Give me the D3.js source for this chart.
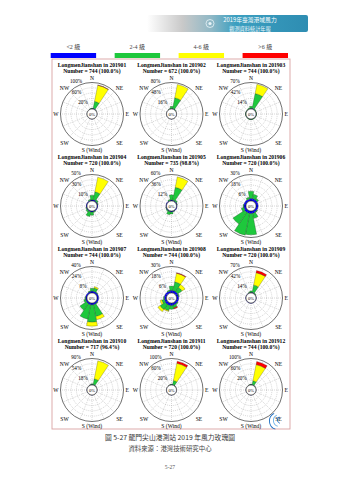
<!DOCTYPE html>
<html>
<head>
<meta charset="utf-8">
<script src="https://cdn.jsdelivr.net/npm/d3@7"></script>
<style>
  body { margin: 0; background: #fff; }
  svg text { font-family: "Liberation Serif", "Noto Sans CJK TC", serif; }
</style>
</head>
<body>
<div id="chart"></div>
<script>
// ---- data -------------------------------------------------------------
const station = "LongmenJianshan";
const months = ["201901","201902","201903","201904","201905","201906",
                "201907","201908","201909","201910","201911","201912"];
const counts = ["744 (100.0%)","672 (100.0%)","744 (100.0%)","720 (100.0%)",
                "735 (98.8%)","720 (100.0%)","744 (100.0%)","744 (100.0%)",
                "720 (100.0%)","717 (96.4%)","720 (100.0%)","744 (100.0%)"];
// outer ring value (%) of each rose
const ringMax = [100, 80, 70, 50, 60, 30, 40, 30, 70, 90, 100, 100];
const dirLabels = ["N","NE","E","SE","S (Wind)","SW","W","NW"];
const binLabels = ["<2 級","2-4 級","4-6 級",">6 級"];

// frequency (%) per direction: N, NNE, NE, ENE, E, ESE, SE, SSE, S, SSW, SW, WSW, W, WNW, NW, NNW
const binLt2 = [
  [1.5,3,1,0.5,0.4,0.3,0.3,0.4,0.5,0.5,0.5,0.4,0.3,0.3,0.4,0.8],
  [1,2,0.8,0.4,0.3,0.3,0.3,0.3,0.4,0.4,0.4,0.3,0.3,0.3,0.3,0.6],
  [1.5,2,1,0.6,0.5,0.5,0.5,0.5,0.6,0.6,0.5,0.5,0.5,0.5,0.5,0.8],
  [2,2.5,1.8,1.5,1.5,1.5,1.5,1.5,2,2,1.5,1.5,1.5,1.5,1.5,1.5],
  [2,2,1.8,1.5,1.5,1.5,1.5,1.5,2,2,1.5,1.5,1.5,1.5,1.5,1.5],
  [3,3,2.8,2.5,2.5,2.5,2.5,2.8,3,3,3,2.5,2.5,2.5,2.5,2.5],
  [3,3,2.5,2.5,2.5,2.5,2.5,3,3,3,2.5,2.2,2.2,2.2,2.2,2.5],
  [3,3,2.8,2.5,2.5,2.5,2.5,2.5,3,3,3,2.5,2.5,2.5,2.5,2.5],
  [1.5,2,1,0.8,0.8,0.8,0.8,0.8,0.8,0.8,0.8,0.8,0.8,0.8,0.8,1],
  [1.5,2,0.8,0.5,0.5,0.5,0.5,0.5,0.6,0.6,0.5,0.5,0.5,0.5,0.5,0.8],
  [1.5,2,0.8,0.5,0.5,0.5,0.5,0.5,0.6,0.6,0.5,0.5,0.5,0.5,0.5,0.8],
  [1.5,2,0.8,0.5,0.5,0.5,0.5,0.5,0.6,0.6,0.5,0.5,0.5,0.5,0.5,0.8]
];
const bin2to4 = [
  [2,27,1,0,0,0,0,0,0,0,0,0,0,0,0,0.5],
  [7,33,1.5,0,0,0,0,0,0,0,0,0,0,0,0,1],
  [6,40,2,1,1,1,1,1,1.5,1.5,1,1,1,1,1,2],
  [9,15.5,3,1,0,0,0,1.5,6,9,3,1,0,0,0,2],
  [12,30,3,0.5,0,0,0,1,5,7,2,0.5,0,0,0,2],
  [8,5,2,0,0,0,1,6,24,25,16,3,1,0,0,2],
  [4,5,1,0,0,0,1,18,26,22,12,3,1,0,0,1],
  [5,10,6,1,0,0,1,3,4,6,7,3,1,0,0,1],
  [4,20,2,0,0,0,0,0,0,0,0,0,0,0,0,1],
  [3,20,1,0,0,0,0,0,0,0,0,0,0,0,0,0.5],
  [2,16,1,0,0,0,0,0,0,0,0,0,0,0,0,0.5],
  [2,15,1,0,0,0,0,0,0,0,0,0,0,0,0,0.5]
];
const bin4to6 = [
  [0,62,0,0,0,0,0,0,0,0,0,0,0,0,0,0],
  [0,41,0,0,0,0,0,0,0,0,0,0,0,0,0,0],
  [0,25,0,0,0,0,0,0,0,0,0,0,0,0,0,0],
  [0,28,0,0,0,0,0,0,0,0,0,0,0,0,0,0],
  [0,24,0,0,0,0,0,0,0,0,0,0,0,0,0,0],
  [0,0,0,0,0,0,0,0,0,0,0,0,0,0,0,0],
  [0,2,0,0,0,0,0,5,6,0,0,0,0,0,0,0],
  [0,10,4,0,0,0,0,0.5,0,1,3,2,0,0,0,0],
  [0,33,0,0,0,0,0,0,0,0,0,0,0,0,0,0],
  [0,62,0,0,0,0,0,0,0,0,0,0,0,0,0,0],
  [0,66,0,0,0,0,0,0,0,0,0,0,0,0,0,0],
  [0,62,0,0,0,0,0,0,0,0,0,0,0,0,0,0]
];
const binGt6 = [
  [0,1,0,0,0,0,0,0,0,0,0,0,0,0,0,0],
  [0,0,0,0,0,0,0,0,0,0,0,0,0,0,0,0],
  [0,0,0,0,0,0,0,0,0,0,0,0,0,0,0,0],
  [0,0,0,0,0,0,0,0,0,0,0,0,0,0,0,0],
  [0,0,0,0,0,0,0,0,0,0,0,0,0,0,0,0],
  [0,0,0,0,0,0,0,0,0,0,0,0,0,0,0,0],
  [0,0,0,0,0,0,0,0,0,0,0,0,0,0,0,0],
  [0,0.5,0,0,0,0,0,1,0,0,0,0,0,0,0,0],
  [0,6,0,0,0,0,0,0,0,0,0,0,0,0,0,0],
  [0,0,0,0,0,0,0,0,0,0,0,0,0,0,0,0],
  [0,8,0,0,0,0,0,0,0,0,0,0,0,0,0,0],
  [0,12,0,0,0,0,0,0,0,0,0,0,0,0,0,0]
];
const binColors = ["#0000ff", "#1ec83c", "#ffff00", "#ff0000"];

// ---- layout -----------------------------------------------------------
const W = 339, H = 480;
const colX = [92, 171.5, 251];
const rowY0 = 114, rowStep = 92;
const R = 31.5, hole = 5;

const svg = d3.select("#chart").append("svg")
  .attr("width", W).attr("height", H);

// header banner
const defs = svg.append("defs");
const grad = defs.append("linearGradient").attr("id", "banner");
[["0%","#ffffff"],["22%","#c9c9c9"],["40%","#8fb8c6"],["55%","#3b9fc0"],["100%","#2e8db2"]]
  .forEach(([o,c]) => grad.append("stop").attr("offset", o).attr("stop-color", c));
svg.append("rect").attr("x", 147).attr("y", 15).attr("width", 161).attr("height", 17)
  .attr("rx", 2).attr("fill", "url(#banner)");
svg.append("circle").attr("cx", 210).attr("cy", 23.5).attr("r", 4)
  .attr("fill", "none").attr("stroke", "#e8f4f8").attr("stroke-width", 0.8);
svg.append("circle").attr("cx", 210).attr("cy", 23.5).attr("r", 1.6).attr("fill", "#e8f4f8");
svg.append("text").attr("x", 250).attr("y", 19.6).attr("text-anchor", "middle")
  .attr("dominant-baseline", "central").attr("fill", "#fff")
  .style("font-family", "Noto Sans CJK TC").style("font-size", "5.8px").text("2019年臺灣港域風力");
svg.append("text").attr("x", 250).attr("y", 28.1).attr("text-anchor", "middle")
  .attr("dominant-baseline", "central").attr("fill", "#eef7fa")
  .style("font-family", "Noto Sans CJK TC").style("font-size", "5.2px").text("觀測資料統計年報");

// legend
const legX = d3.scaleBand().domain(binLabels).range([50.7, 288]).paddingInner(0.29);
svg.selectAll("rect.leg").data(binLabels).join("rect")
  .attr("x", d => legX(d)).attr("y", 53).attr("width", legX.bandwidth()).attr("height", 5)
  .attr("fill", (d, i) => binColors[i]);
svg.selectAll("text.leg").data(binLabels).join("text")
  .attr("x", d => legX(d) + legX.bandwidth() / 2).attr("y", 47)
  .attr("text-anchor", "middle").attr("dominant-baseline", "central")
  .attr("fill", "#444").style("font-size", "6px").text(d => d);

// frame around the roses
svg.append("rect").attr("x", 52).attr("y", 59).attr("width", 238).attr("height", 370)
  .attr("fill", "none").attr("stroke", "#d9a3a3").attr("stroke-width", 0.9);

const arc = d3.arc();
const step = Math.PI / 8;

months.forEach((m, idx) => {
  const cx = colX[idx % 3];
  const cy = rowY0 + rowStep * Math.floor(idx / 3);
  const g = svg.append("g").attr("transform", `translate(${cx},${cy})`);
  const r = d3.scaleLinear().domain([0, ringMax[idx]]).range([hole, R]);
  const ticks = d3.range(1, 6).map(k => ringMax[idx] * k / 5);

  // title
  g.append("text").attr("x", 0).attr("y", -49.5).attr("text-anchor", "middle")
    .attr("dominant-baseline", "central").attr("font-weight", "bold")
    .style("font-size", "5.6px").text(`${station} in ${m}`);
  g.append("text").attr("x", 0).attr("y", -42.8).attr("text-anchor", "middle")
    .attr("dominant-baseline", "central").attr("font-weight", "bold")
    .style("font-size", "5.6px").text(`Number = ${counts[idx]}`);

  // dashed rings and spokes
  g.selectAll("circle.ring").data(ticks.slice(0, 4)).join("circle")
    .attr("r", d => r(d)).attr("fill", "none").attr("stroke", "#9a9a9a")
    .attr("stroke-width", 0.4).attr("stroke-dasharray", "1,1");
  g.selectAll("line.spoke").data(d3.range(16)).join("line")
    .attr("x1", d => hole * Math.sin(d * step)).attr("y1", d => -hole * Math.cos(d * step))
    .attr("x2", d => R * Math.sin(d * step)).attr("y2", d => -R * Math.cos(d * step))
    .attr("stroke", "#9a9a9a").attr("stroke-width", 0.4).attr("stroke-dasharray", "1,1");
  g.append("circle").attr("r", R).attr("fill", "none").attr("stroke", "#111").attr("stroke-width", 0.6);

  // stacked sectors
  const bins = [binLt2[idx], bin2to4[idx], bin4to6[idx], binGt6[idx]];
  const segs = [];
  d3.range(16).forEach(d => {
    let acc = 0;
    bins.forEach((b, bi) => {
      const v = b[d];
      if (v > 0) segs.push({ d, bi, a0: acc, a1: acc + v });
      acc += v;
    });
  });
  g.selectAll("path.seg").data(segs).join("path")
    .attr("d", s => arc({ innerRadius: r(s.a0), outerRadius: r(s.a1),
                          startAngle: (s.d - 0.5) * step, endAngle: (s.d + 0.5) * step }))
    .attr("fill", s => binColors[s.bi]).attr("stroke", "#222").attr("stroke-width", 0.25);

  // calm circle
  g.append("circle").attr("r", hole).attr("fill", "#fff").attr("stroke", "#111").attr("stroke-width", 0.5);
  g.append("text").attr("x", 0).attr("y", 0.2).attr("text-anchor", "middle")
    .attr("dominant-baseline", "central").style("font-size", "4.6px").text("0%");

  // ring labels
  const ringLab = [[0, -9, -12], [2, -15.5, -22], [4, -16, -33.5]];
  ringLab.forEach(([k, dx, dy]) => {
    g.append("text").attr("x", dx).attr("y", dy).attr("text-anchor", "middle")
      .attr("dominant-baseline", "central").style("font-size", "5.2px")
      .text(`${ticks[k]}%`);
  });

  // compass labels
  const dirPos = [[0, -35.8, "middle"], [27.5, -26.5, "middle"], [33.5, 0, "start"], [27.5, 28.5, "middle"],
                  [0, 35.5, "middle"], [-27.5, 28.5, "middle"], [-33.5, 0, "end"], [-27.5, -26.5, "middle"]];
  dirLabels.forEach((t, i) => {
    g.append("text").attr("x", dirPos[i][0]).attr("y", dirPos[i][1])
      .attr("text-anchor", dirPos[i][2]).attr("dominant-baseline", "central")
      .style("font-size", "5.6px").text(t);
  });
});

// small wave emblem in the lower right corner of the frame
const emb = svg.append("g").attr("transform", "translate(278,421)");
[[9, 0.9], [6.5, 0.9], [4, 0.9]].forEach(([rr, w], i) => {
  emb.append("path").attr("d", d3.arc()({ innerRadius: rr - w, outerRadius: rr,
                                          startAngle: Math.PI * 1.1, endAngle: Math.PI * 1.85 }))
    .attr("transform", `translate(${i * 1.5},${-i * 0.5})`)
    .attr("fill", i === 1 ? "#6ab0e6" : "#1e6fc4");
});

// caption
svg.append("text").attr("x", 170).attr("y", 437).attr("text-anchor", "middle")
  .attr("dominant-baseline", "central").attr("fill", "#333")
  .style("font-family", "Noto Sans CJK TC").style("font-size", "6.8px")
  .text("圖 5-27 龍門尖山港測站 2019 年風力玫瑰圖");
svg.append("text").attr("x", 170).attr("y", 448).attr("text-anchor", "middle")
  .attr("dominant-baseline", "central").attr("fill", "#444")
  .style("font-family", "Noto Sans CJK TC").style("font-size", "6.4px")
  .text("資料來源：港灣技術研究中心");
svg.append("text").attr("x", 170).attr("y", 467).attr("text-anchor", "middle")
  .attr("dominant-baseline", "central").attr("fill", "#555")
  .style("font-size", "5.6px").text("5-27");
</script>
</body>
</html>
